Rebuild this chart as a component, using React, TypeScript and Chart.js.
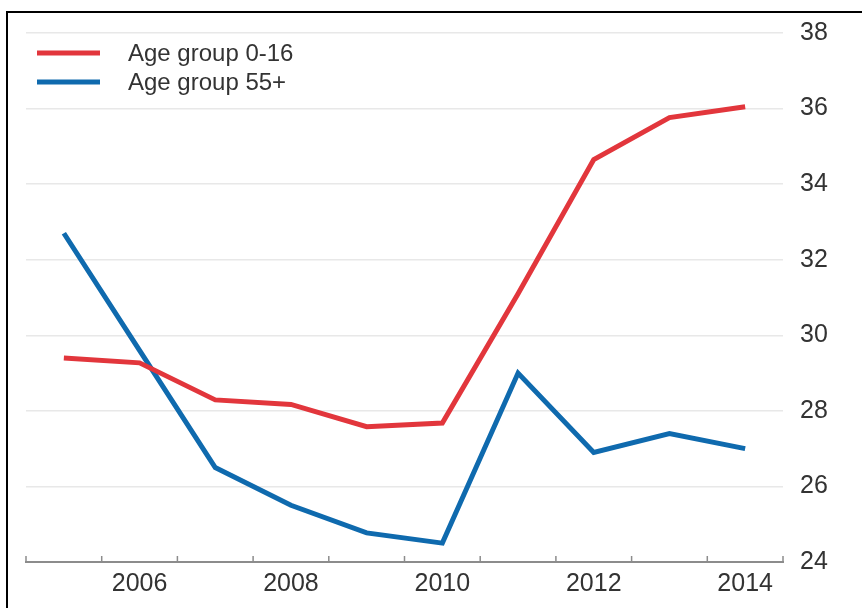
import React, { useEffect, useRef } from "react";
import { Chart, registerables } from "chart.js";

Chart.register(...registerables);

const years = [2005, 2006, 2007, 2008, 2009, 2010, 2011, 2012, 2013, 2014];
const age0to16 = [29.4, 29.27, 28.29, 28.17, 27.58, 27.68, 31.1, 34.65, 35.76, 36.05];
const age55plus = [32.7, 29.6, 26.5, 25.5, 24.77, 24.5, 29.0, 26.9, 27.4, 27.0];
const xTickLabels = [2006, 2008, 2010, 2012, 2014];
const yTicks = [24, 26, 28, 30, 32, 34, 36, 38];
const seriesNames = ["Age group 0-16", "Age group 55+"];

const FONT = "'Liberation Sans', Arial, Helvetica, sans-serif";

const halfYearTicks = {
  id: "halfYearTicks",
  afterDatasetsDraw(chart: any) {
    const x = chart.scales.x;
    const { ctx, chartArea } = chart;
    ctx.save();
    ctx.strokeStyle = "#8c8c8c";
    ctx.lineWidth = 1.5;
    for (let v = x.min; v <= x.max + 1e-6; v += 1) {
      const px = x.getPixelForValue(v);
      ctx.beginPath();
      ctx.moveTo(px, chartArea.bottom);
      ctx.lineTo(px, chartArea.bottom - 6);
      ctx.stroke();
    }
    ctx.restore();
  },
};

const insideLegend = {
  id: "insideLegend",
  afterDraw(chart: any) {
    const { ctx, chartArea } = chart;
    ctx.save();
    chart.data.datasets.forEach((ds: any, i: number) => {
      const y = chartArea.top + 20 + i * 29;
      ctx.strokeStyle = ds.borderColor;
      ctx.lineWidth = 5;
      ctx.beginPath();
      ctx.moveTo(chartArea.left + 11, y);
      ctx.lineTo(chartArea.left + 74, y);
      ctx.stroke();
      ctx.fillStyle = "#333";
      ctx.font = `24px ${FONT}`;
      ctx.textBaseline = "middle";
      ctx.textAlign = "left";
      ctx.fillText(ds.label, chartArea.left + 102, y + 1);
    });
    ctx.restore();
  },
};

export default function App() {
  const ref = useRef<HTMLCanvasElement | null>(null);

  useEffect(() => {
    if (!ref.current) return;
    const chart = new Chart(ref.current, {
      type: "line",
      data: {
        datasets: [
          {
            label: seriesNames[0],
            data: years.map((y, i) => ({ x: y, y: age0to16[i] })),
            borderColor: "#e2363c",
            backgroundColor: "#e2363c",
            borderWidth: 5,
            pointRadius: 0,
            tension: 0,
          },
          {
            label: seriesNames[1],
            data: years.map((y, i) => ({ x: y, y: age55plus[i] })),
            borderColor: "#0f6aae",
            backgroundColor: "#0f6aae",
            borderWidth: 5,
            pointRadius: 0,
            tension: 0,
          },
        ],
      },
      options: {
        responsive: false,
        animation: false,
        layout: { padding: { left: 26, top: 33, right: 0, bottom: 0 } },
        plugins: {
          legend: { display: false },
          tooltip: { enabled: false },
        },
        scales: {
          x: {
            type: "linear",
            min: 2004.5,
            max: 2014.5,
            afterBuildTicks: (s: any) => {
              s.ticks = xTickLabels.map((v) => ({ value: v }));
            },
            afterFit: (s: any) => {
              s.height = 46;
            },
            grid: { display: false },
            border: { display: true, color: "#8c8c8c", width: 2 },
            ticks: {
              autoSkip: false,
              maxRotation: 0,
              padding: -1,
              color: "#333",
              font: { family: FONT, size: 25 },
              callback: (v: any) => String(v),
            },
          },
          y: {
            position: "right",
            min: 24,
            max: 38,
            afterBuildTicks: (s: any) => {
              s.ticks = yTicks.map((v) => ({ value: v }));
            },
            afterFit: (s: any) => {
              s.width = 79;
            },
            grid: { color: "#e8e8e8", lineWidth: 1.5, drawTicks: false },
            border: { display: false },
            ticks: {
              padding: 17,
              color: "#333",
              font: { family: FONT, size: 25 },
              callback: (v: any) => String(v),
            },
          },
        },
      },
      plugins: [halfYearTicks, insideLegend],
    });
    return () => chart.destroy();
  }, []);

  return (
    <div style={{ position: "fixed", left: 0, top: 0, width: 862, height: 608, background: "#fff", overflow: "hidden" }}>
      <canvas ref={ref} width={862} height={608} style={{ position: "absolute", left: 0, top: 0, width: 862, height: 608 }} />
      <div
        style={{
          position: "absolute",
          left: 6,
          top: 11,
          width: 900,
          height: 700,
          borderTop: "2px solid #000",
          borderLeft: "2px solid #000",
          pointerEvents: "none",
        }}
      />
    </div>
  );
}
